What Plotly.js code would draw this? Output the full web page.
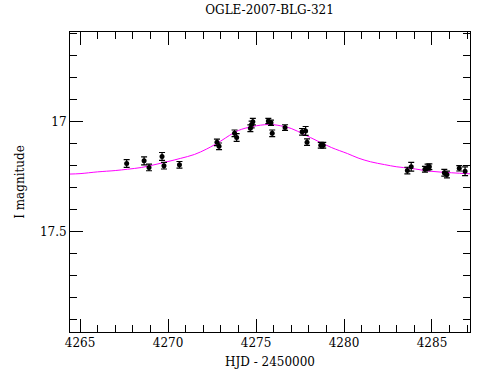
<!DOCTYPE html>
<html>
<head>
<meta charset="utf-8">
<script src="https://cdn.plot.ly/plotly-3.0.1.min.js"></script>
<style>html,body{margin:0;padding:0;background:#fff;}#chart{width:490px;height:380px;}</style>
</head>
<body>
<div id="chart"></div>
<script>
// Observed photometry (HJD - 2450000, I mag, error)
const obsHJD = [4267.65, 4268.64, 4268.92, 4269.66, 4269.77, 4270.65, 4272.78, 4272.90, 4273.78, 4273.90,
  4274.68, 4274.75, 4274.82, 4275.70, 4275.85, 4275.92, 4276.65, 4277.62, 4277.82, 4277.90,
  4278.68, 4278.82, 4283.60, 4283.82, 4284.60, 4284.75, 4284.85, 4285.70, 4285.85, 4286.55, 4286.88];
const obsMag = [17.190, 17.178, 17.208, 17.158, 17.200, 17.196, 17.094, 17.112, 17.053, 17.072,
  17.030, 17.013, 17.000, 16.997, 17.005, 17.053, 17.027, 17.046, 17.042, 17.093,
  17.107, 17.107, 17.222, 17.205, 17.216, 17.208, 17.205, 17.232, 17.240, 17.212, 17.225];
const obsErr = [0.018, 0.018, 0.015, 0.018, 0.015, 0.015, 0.015, 0.015, 0.015, 0.018,
  0.015, 0.015, 0.015, 0.012, 0.012, 0.015, 0.013, 0.015, 0.020, 0.015,
  0.013, 0.013, 0.015, 0.020, 0.013, 0.015, 0.013, 0.015, 0.015, 0.012, 0.020];

// Model curve
const modelHJD = [4264.4, 4265.0, 4266.0, 4267.0, 4267.7, 4268.5, 4269.2, 4270.0, 4270.7, 4271.5,
  4272.2, 4273.0, 4273.5, 4274.0, 4274.8, 4275.7, 4276.2, 4277.0, 4277.7, 4278.5,
  4279.3, 4280.2, 4280.8, 4281.5, 4282.3, 4283.0, 4283.8, 4284.9, 4286.1, 4287.2];
const modelMag = [17.238, 17.236, 17.228, 17.222, 17.216, 17.208, 17.196, 17.181, 17.167, 17.149,
  17.124, 17.088, 17.062, 17.040, 17.022, 17.013, 17.016, 17.031, 17.057, 17.088,
  17.118, 17.145, 17.165, 17.182, 17.195, 17.205, 17.212, 17.225, 17.232, 17.237];

const xTickVals = [4265, 4270, 4275, 4280, 4285];
const yTickVals = [17, 17.5];

const fontFam = '"DejaVu Serif", "Liberation Serif", serif';

const traces = [
  {
    x: modelHJD, y: modelMag, type: 'scatter', mode: 'lines',
    line: {color: '#ff00ff', width: 1, shape: 'spline'},
    hoverinfo: 'skip', showlegend: false
  },
  {
    x: obsHJD, y: obsMag, type: 'scatter', mode: 'markers',
    marker: {color: '#000', size: 5, symbol: 'circle'},
    error_y: {type: 'data', array: obsErr, visible: true, color: '#000', thickness: 1.2, width: 3},
    showlegend: false
  }
];

const axisCommon = {
  showline: true, linecolor: '#000', linewidth: 1, mirror: 'allticks',
  ticks: 'inside', ticklen: 13, tickwidth: 1, tickcolor: '#000',
  showgrid: false, zeroline: false,
  tickfont: {family: fontFam, size: 12, color: '#000'}
};

const layout = {
  width: 490, height: 380,
  margin: {l: 70, r: 20, t: 32, b: 48},
  paper_bgcolor: '#fff', plot_bgcolor: '#fff',
  title: {text: 'OGLE-2007-BLG-321', font: {family: fontFam, size: 12, color: '#000'}, x: 0.55, xanchor: 'center', y: 0.975, yanchor: 'middle'},
  xaxis: Object.assign({}, axisCommon, {
    range: [4264.43, 4287.16],
    tickmode: 'array', tickvals: xTickVals, ticktext: xTickVals.map(String),
    minor: {dtick: 1, tick0: 4265, ticks: 'inside', ticklen: 7, tickcolor: '#000', showgrid: false},
    title: {text: 'HJD - 2450000', font: {family: fontFam, size: 12, color: '#000'}, standoff: 8}
  }),
  yaxis: Object.assign({}, axisCommon, {
    range: [17.955, 16.593],
    tickmode: 'array', tickvals: yTickVals, ticktext: ['17', '17.5'],
    minor: {dtick: 0.1, tick0: 17, ticks: 'inside', ticklen: 7, tickcolor: '#000', showgrid: false},
    title: {text: 'I magnitude', font: {family: fontFam, size: 12, color: '#000'}, standoff: 12}
  })
};

Plotly.newPlot('chart', traces, layout, {staticPlot: true, displayModeBar: false});
</script>
</body>
</html>
